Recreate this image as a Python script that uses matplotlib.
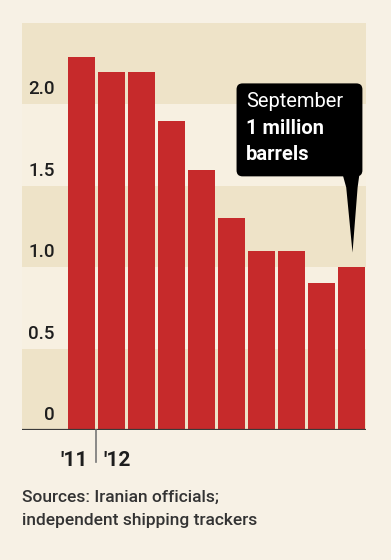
import matplotlib
matplotlib.use("Agg")
import matplotlib.pyplot as plt
from matplotlib.patches import FancyBboxPatch, Polygon
from matplotlib import font_manager

values = [2.29, 2.20, 2.20, 1.90, 1.60, 1.30, 1.10, 1.10, 0.90, 1.00]
ytick_values = [0, 0.5, 1.0, 1.5, 2.0]
ytick_labels = ["0", "0.5", "1.0", "1.5", "2.0"]
year_labels = ["'11", "'12"]
callout_lines = ["September", "1 million", "barrels"]
source_lines = ["Sources: Iranian officials;", "independent shipping trackers"]

plt.rcParams['font.family'] = ['Roboto', 'DejaVu Sans']

W, H = 391, 560
fig = plt.figure(figsize=(W/100, H/100), dpi=100)
fig.patch.set_facecolor("#f7f1e5")

left, right, top, bottom = 22, 366, 23, 430
ax = fig.add_axes([left/W, (H-bottom)/H, (right-left)/W, (bottom-top)/H])
ax.set_facecolor("#f7f0e1")
ax.set_xlim(-1.98, 9.5)
ax.set_ylim(0, 2.5)
for s in ax.spines.values():
    s.set_visible(False)
ax.set_xticks([]); ax.set_yticks([])

dark = "#eee3c8"
for lo in (0, 1.0, 2.0):
    ax.axhspan(lo, lo+0.5, color=dark, lw=0, zorder=0)

x = list(range(len(values)))
ax.bar(x, values, width=0.9, color="#c62a2b", zorder=2)
ax.axhline(0, color="#3a3a3a", lw=1.6, zorder=3)

txt = "#1e1e1e"
for v, lab in zip(ytick_values, ytick_labels):
    ax.text(-0.88, v + 0.092, lab, ha="right", va="center", fontsize=13.5,
            color=txt, fontweight="medium", zorder=4)

# year divider
ax.plot([0.5, 0.5], [0, -32/163], color="#777777", lw=1.2, clip_on=False, zorder=3)
ax.text(0.2, -31/163, year_labels[0], ha="right", va="center", fontsize=15, color=txt, fontweight="bold")
ax.text(0.74, -31/163, year_labels[1], ha="left", va="center", fontsize=15, color=txt, fontweight="bold")

# callout
box = FancyBboxPatch((5.18, 1.558), 4.2, 0.571, boxstyle="round,pad=0,rounding_size=0.2",
                     mutation_aspect=0.184, facecolor="black", edgecolor="none", zorder=5)
ax.add_patch(box)
tail = Polygon([(8.72, 1.57), (9.28, 1.57), (9.22, 1.49), (9.05, 1.09), (8.84, 1.49)],
               closed=True, facecolor="black", edgecolor="none", zorder=5)
ax.add_patch(tail)
ax.text(5.5, 2.02, callout_lines[0], color="white", fontsize=14.5, va="center", ha="left", zorder=6)
ax.text(5.5, 1.855, callout_lines[1], color="white", fontsize=14.5, va="center", ha="left", fontweight="bold", zorder=6)
ax.text(5.5, 1.69, callout_lines[2], color="white", fontsize=14.5, va="center", ha="left", fontweight="bold", zorder=6)

for i, line in enumerate(source_lines):
    fig.text(22/W, 1 - (497 + 24*i)/H, line, ha="left", va="center", fontsize=12.5,
             color="#333333", fontweight="medium")

fig.savefig("out.png", dpi=100, facecolor=fig.get_facecolor())
